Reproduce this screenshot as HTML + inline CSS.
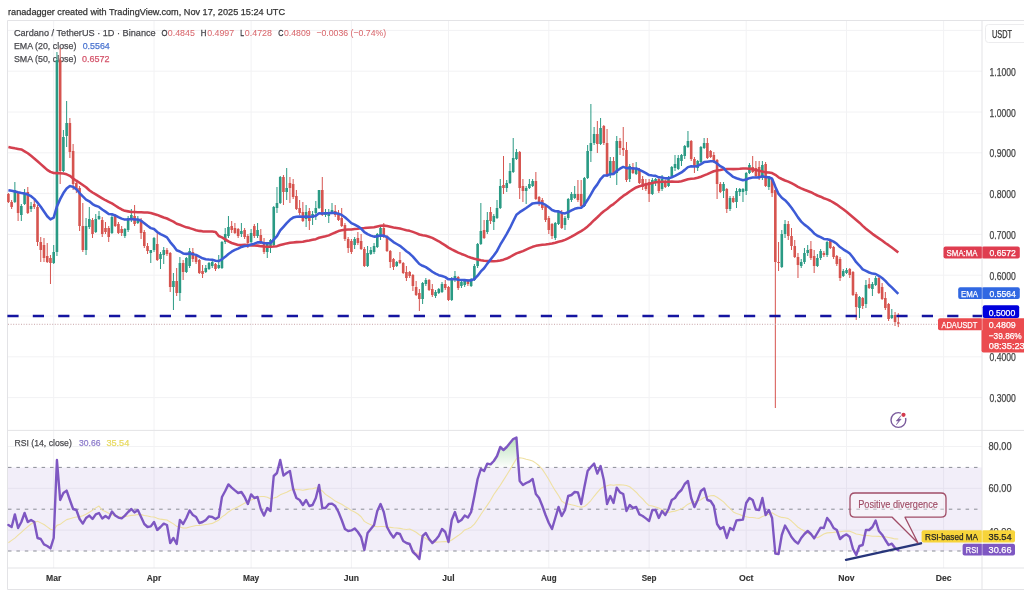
<!DOCTYPE html>
<html><head><meta charset="utf-8"><title>ADAUSDT chart</title>
<style>html,body{margin:0;padding:0;background:#fff;width:1024px;height:600px;overflow:hidden}body{position:relative;font-family:"Liberation Sans",sans-serif}</style>
</head><body>
<svg width="1024" height="600" viewBox="0 0 1024 600" style="position:absolute;left:0;top:0;filter:blur(0.45px)" font-family='"Liberation Sans", sans-serif'>
<rect x="0" y="0" width="1024" height="600" fill="#fff"/>
<line x1="53.7" y1="20.5" x2="53.7" y2="568" stroke="#f2f2f4" stroke-width="1"/>
<line x1="154.02" y1="20.5" x2="154.02" y2="568" stroke="#f2f2f4" stroke-width="1"/>
<line x1="251.1" y1="20.5" x2="251.1" y2="568" stroke="#f2f2f4" stroke-width="1"/>
<line x1="351.41" y1="20.5" x2="351.41" y2="568" stroke="#f2f2f4" stroke-width="1"/>
<line x1="448.49" y1="20.5" x2="448.49" y2="568" stroke="#f2f2f4" stroke-width="1"/>
<line x1="548.81" y1="20.5" x2="548.81" y2="568" stroke="#f2f2f4" stroke-width="1"/>
<line x1="649.12" y1="20.5" x2="649.12" y2="568" stroke="#f2f2f4" stroke-width="1"/>
<line x1="746.2" y1="20.5" x2="746.2" y2="568" stroke="#f2f2f4" stroke-width="1"/>
<line x1="846.52" y1="20.5" x2="846.52" y2="568" stroke="#f2f2f4" stroke-width="1"/>
<line x1="943.6" y1="20.5" x2="943.6" y2="568" stroke="#f2f2f4" stroke-width="1"/>
<line x1="7.5" y1="30.4" x2="982" y2="30.4" stroke="#f2f2f4" stroke-width="1"/>
<line x1="7.5" y1="71.2" x2="982" y2="71.2" stroke="#f2f2f4" stroke-width="1"/>
<line x1="7.5" y1="112" x2="982" y2="112" stroke="#f2f2f4" stroke-width="1"/>
<line x1="7.5" y1="152.8" x2="982" y2="152.8" stroke="#f2f2f4" stroke-width="1"/>
<line x1="7.5" y1="193.6" x2="982" y2="193.6" stroke="#f2f2f4" stroke-width="1"/>
<line x1="7.5" y1="234.4" x2="982" y2="234.4" stroke="#f2f2f4" stroke-width="1"/>
<line x1="7.5" y1="275.2" x2="982" y2="275.2" stroke="#f2f2f4" stroke-width="1"/>
<line x1="7.5" y1="316" x2="982" y2="316" stroke="#f2f2f4" stroke-width="1"/>
<line x1="7.5" y1="356.8" x2="982" y2="356.8" stroke="#f2f2f4" stroke-width="1"/>
<line x1="7.5" y1="397.6" x2="982" y2="397.6" stroke="#f2f2f4" stroke-width="1"/>
<line x1="7.5" y1="446.5" x2="982" y2="446.5" stroke="#f2f2f4" stroke-width="1"/>
<line x1="7.5" y1="488.3" x2="982" y2="488.3" stroke="#f2f2f4" stroke-width="1"/>
<line x1="7.5" y1="530.1" x2="982" y2="530.1" stroke="#f2f2f4" stroke-width="1"/>
<rect x="7.5" y="467.4" width="974.5" height="83.6" fill="#7e57c2" fill-opacity="0.1"/>
<line x1="7.5" y1="20.5" x2="1024" y2="20.5" stroke="#e3e3e6"/>
<line x1="7.5" y1="20.5" x2="7.5" y2="589.5" stroke="#e3e3e6"/>
<line x1="7.5" y1="589.5" x2="1024" y2="589.5" stroke="#e3e3e6"/>
<line x1="7.5" y1="430.4" x2="1024" y2="430.4" stroke="#e3e3e6"/>
<line x1="7.5" y1="568" x2="1024" y2="568" stroke="#e3e3e6"/>
<line x1="982" y1="20.5" x2="982" y2="589.5" stroke="#e3e3e6"/>
<line x1="8" y1="467.4" x2="982" y2="467.4" stroke="#8a8d96" stroke-width="1" stroke-dasharray="3.5 4.9"/>
<line x1="8" y1="509.2" x2="982" y2="509.2" stroke="#8a8d96" stroke-width="1" stroke-dasharray="3.5 4.9"/>
<line x1="8" y1="551" x2="982" y2="551" stroke="#8a8d96" stroke-width="1" stroke-dasharray="3.5 4.9"/>
<defs><linearGradient id="gOB" x1="0" y1="0" x2="0" y2="1"><stop offset="0" stop-color="#4caf50" stop-opacity="0.38"/><stop offset="1" stop-color="#4caf50" stop-opacity="0.02"/></linearGradient><linearGradient id="gOS" x1="0" y1="0" x2="0" y2="1"><stop offset="0" stop-color="#f23645" stop-opacity="0.05"/><stop offset="1" stop-color="#f23645" stop-opacity="0.5"/></linearGradient></defs>
<polygon points="56.63,467.4 56.94,460 57.53,467.4" fill="url(#gOB)"/>
<polygon points="278.38,467.4 280.22,460 281.76,467.4" fill="url(#gOB)"/>
<polygon points="485.66,467.4 487.32,463.6 490.56,464.4 493.8,461 497.03,456 500.27,447 503.5,450 506.74,447 509.98,443 513.21,439 516.45,437.6 518.67,467.4" fill="url(#gOB)"/>
<polygon points="590.55,467.4 590.88,467 594.11,463.6 595.34,467.4" fill="url(#gOB)"/>
<polygon points="599.99,467.4 600.58,466 600.91,467.4" fill="url(#gOB)"/>
<polygon points="412.49,551 412.9,552 416.13,555 419.37,559 420.49,551" fill="url(#gOS)"/>
<polygon points="775.09,551 775.33,553.6 778.56,554 779.07,551" fill="url(#gOS)"/>
<polygon points="854.07,551 856.23,555 857.67,551" fill="url(#gOS)"/>
<polyline points="8.4,542.72 11.63,540.41 14.87,538.09 18.1,535.21 21.34,532.29 24.58,529.38 27.81,526.66 31.05,523.98 34.28,522.36 37.52,521.26 40.76,522.88 43.99,524.5 47.23,526.86 50.46,529.23 53.7,530.16 56.94,525.37 60.17,524.34 63.41,521.84 66.64,519.6 69.88,518.67 73.12,517.74 76.35,517.03 79.59,516.81 82.82,515.79 86.06,514.29 89.3,512.23 92.53,510.3 95.77,507.87 99,506.09 102.24,510.26 105.48,511.41 108.71,513.22 111.95,514.72 115.18,515.84 118.42,516.45 121.66,517.05 124.89,516.81 128.13,515.98 131.36,515.34 134.6,515.11 137.84,514.46 141.07,514.65 144.31,515.44 147.54,516.04 150.78,516.79 154.02,517.04 157.25,518.36 160.49,519.17 163.72,519.6 166.96,520.07 170.2,522.03 173.43,523.89 176.67,526.39 179.9,526.93 183.14,527.93 186.38,528 189.61,527.03 192.85,526.17 196.08,525.5 199.32,525.57 202.56,525 205.79,524.5 209.03,523.99 212.26,523.41 215.5,521.7 218.74,520.2 221.97,516.84 225.21,514.77 228.44,511.94 231.68,509.77 234.92,508.34 238.15,506.77 241.39,504.99 244.62,503.13 247.86,501.84 251.1,500.01 254.33,498.7 257.57,497.27 260.8,496.56 264.04,496.46 267.28,497.24 270.51,498.67 273.75,498.07 276.98,497.03 280.22,494.86 283.46,493.61 286.69,492.26 289.93,490.4 293.16,489.33 296.4,489.59 299.64,489.73 302.87,490.3 306.11,489.66 309.34,488.97 312.58,488.76 315.82,487.83 319.05,488.47 322.29,490.97 325.52,494.4 328.76,496.43 332,498.61 335.23,501.11 338.47,502.76 341.7,504.33 344.94,506.4 348.18,508.26 351.41,510.43 354.65,512.03 357.88,513.96 361.12,516.74 364.36,521.39 367.59,523.17 370.83,524.67 374.06,526.17 377.3,526.7 380.54,526.56 383.77,526.56 387.01,527.06 390.24,527.34 393.48,527.81 396.72,528 399.95,528.4 403.19,529.04 406.42,529.47 409.66,529.04 412.9,530.4 416.13,532.26 419.37,534.69 422.6,536.47 425.84,538.54 429.08,540.47 432.31,541.61 435.55,542.11 438.78,542 442.02,541.71 445.26,541.57 448.49,541.64 451.73,540 454.96,537.71 458.2,535.57 461.44,533.07 464.67,529.97 467.91,528.66 471.14,527.16 474.38,524.09 477.62,519.51 480.85,514.44 484.09,509.8 487.32,505.13 490.56,500.3 493.8,494.51 497.03,489.94 500.27,485.3 503.5,480.16 506.74,474.94 509.98,469.76 513.21,464.14 516.45,458.83 519.68,457.76 522.92,458.19 526.16,459.19 529.39,459.94 532.63,461.04 535.86,463.16 539.1,465.8 542.34,469.37 545.57,474.23 548.81,479.44 552.04,485.3 555.28,490.66 558.52,495.51 561.75,501.11 564.99,503.19 568.22,503.97 571.46,504.83 574.7,505.57 577.93,506.53 581.17,507.24 584.4,506.46 587.64,503.96 590.88,500.53 594.11,496.29 597.35,492.33 600.58,488.61 603.82,486.69 607.06,485.83 610.29,484.83 613.53,485.33 616.76,484.8 620,484.83 623.24,484.94 626.47,485.44 629.71,486.73 632.94,489.37 636.18,492.23 639.42,495.86 642.65,498.89 645.89,502.63 649.12,505.56 652.36,505.99 655.6,506.99 658.83,508.06 662.07,509.73 665.3,511.34 668.54,512.41 671.78,511.63 675.01,511.13 678.25,510.06 681.48,508.84 684.72,506.67 687.96,504.17 691.19,502.71 694.43,501.71 697.66,501 700.9,499.64 704.14,497.53 707.37,496.74 710.61,495.74 713.84,495.53 717.08,497.24 720.32,499.46 723.55,501.89 726.79,505.31 730.02,508.46 733.26,511.96 736.5,513.56 739.73,514.49 742.97,515.89 746.2,516.74 749.44,517.43 752.68,517.43 755.91,518.04 759.15,518.33 762.38,516.47 765.62,515.47 768.86,514.26 772.09,512.83 775.33,514.66 778.56,516.37 781.8,517.41 785.04,517.81 788.27,518.63 791.51,521.06 794.74,524.13 797.98,527.24 801.22,529.27 804.45,530.99 807.69,533.34 810.92,534.7 814.16,536.73 817.4,537.8 820.63,535.94 823.87,534.09 827.1,532.87 830.34,532.61 833.58,532.4 836.81,531.9 840.05,531.76 843.28,531.21 846.52,530.96 849.76,531.17 852.99,532.46 856.23,533.96 859.46,534.5 862.7,535.36 865.94,535.53 869.17,535.67 872.41,536.31 875.64,536.21 878.88,536.42 882.12,536.76 885.35,536.83 888.59,537.47 891.82,538.14 895.06,538.92 898.3,539.01" fill="none" stroke="#efe0a2" stroke-width="1.1" stroke-linejoin="round"/>
<polyline points="8.4,525 11.63,527 14.87,514.4 18.1,528 21.34,522 24.58,513 27.81,522 31.05,520 34.28,522 37.52,538 40.76,539 43.99,544.4 47.23,546 50.46,548.4 53.7,538 56.94,460 60.17,500 63.41,493 66.64,490.6 69.88,500 73.12,509 76.35,510 79.59,519 82.82,523.6 86.06,518 89.3,515.6 92.53,519 95.77,514.4 99,513 102.24,518.5 105.48,516 108.71,518.4 111.95,511.6 115.18,515.6 118.42,517.6 121.66,518.4 124.89,515.6 128.13,512 131.36,509 134.6,512.4 137.84,510 141.07,517 144.31,524 147.54,527 150.78,526.4 154.02,522 157.25,530 160.49,527 163.72,523.6 166.96,525 170.2,543 173.43,538 176.67,544 179.9,520 183.14,524 186.38,518 189.61,510.4 192.85,515 196.08,517 199.32,523 202.56,522 205.79,520 209.03,516.4 212.26,517 215.5,519 218.74,517 221.97,497 225.21,491 228.44,484.4 231.68,487.6 234.92,490.4 238.15,493 241.39,492 244.62,497 247.86,504 251.1,494.4 254.33,498 257.57,497 260.8,509 264.04,515.6 267.28,508 270.51,511 273.75,476 276.98,473 280.22,460 283.46,475.6 286.69,473 289.93,471 293.16,489 296.4,498 299.64,500 302.87,505 306.11,500 309.34,506 312.58,505 315.82,498 319.05,485 322.29,508 325.52,508 328.76,504 332,503.6 335.23,506 338.47,512 341.7,520 344.94,529 348.18,531 351.41,530.4 354.65,528.4 357.88,532 361.12,537 364.36,550 367.59,533 370.83,529 374.06,525 377.3,511 380.54,504 383.77,512 387.01,527 390.24,533 393.48,537.6 396.72,533 399.95,534 403.19,541 406.42,543 409.66,544 412.9,552 416.13,555 419.37,559 422.6,536 425.84,533 429.08,539 432.31,543 435.55,540 438.78,536 442.02,529 445.26,532 448.49,542 451.73,520 454.96,512 458.2,522 461.44,520 464.67,515.6 467.91,517.6 471.14,512 474.38,496 477.62,479 480.85,469 484.09,471 487.32,463.6 490.56,464.4 493.8,461 497.03,456 500.27,447 503.5,450 506.74,447 509.98,443 513.21,439 516.45,437.6 519.68,481 522.92,485 526.16,483 529.39,481.6 532.63,479 535.86,494 539.1,498 542.34,506 545.57,515 548.81,523 552.04,529 555.28,518 558.52,507 561.75,516 564.99,510 568.22,496 571.46,495 574.7,492 577.93,492.4 581.17,504 584.4,487 587.64,471 590.88,467 594.11,463.6 597.35,473.6 600.58,466 603.82,480 607.06,504 610.29,496 613.53,503 616.76,487.6 620,492.4 623.24,494 626.47,511 629.71,505 632.94,508 636.18,507 639.42,514.4 642.65,516 645.89,518.4 649.12,521 652.36,510 655.6,510 658.83,518 662.07,511 665.3,515 668.54,509 671.78,500 675.01,498 678.25,493 681.48,490 684.72,484 687.96,481 691.19,498 694.43,507 697.66,500 700.9,491 704.14,488.4 707.37,500 710.61,501 713.84,506 717.08,524 720.32,529 723.55,527 726.79,538 730.02,528 733.26,530 736.5,520.4 739.73,520 742.97,519.6 746.2,503 749.44,498 752.68,500 755.91,509.6 759.15,510 762.38,498 765.62,515 768.86,510 772.09,518 775.33,553.6 778.56,554 781.8,535 785.04,525.6 788.27,531 791.51,537 794.74,541 797.98,543.6 801.22,538 804.45,534 807.69,531 810.92,534 814.16,538.4 817.4,533 820.63,527.6 823.87,528 827.1,518 830.34,522 833.58,528 836.81,530 840.05,539 843.28,536 846.52,534.4 849.76,537 852.99,549 856.23,555 859.46,546 862.7,545 865.94,530 869.17,530 872.41,527 875.64,520.5 878.88,531 882.12,534.7 885.35,540 888.59,545 891.82,543.7 895.06,548 898.3,550.3" fill="none" stroke="#7e57c2" stroke-width="2.4" stroke-linejoin="round" stroke-linecap="round"/>
<line x1="846" y1="559.8" x2="921" y2="543.3" stroke="#27357a" stroke-width="2.4" stroke-linecap="round"/>
<path d="M855,493 H941 Q946,493 946,498 V512.2 Q946,517.2 941,517.2 H905 L918,543 L892.2,517.2 H855 Q850,517.2 850,512.2 V498 Q850,493 855,493 Z" fill="rgba(255,248,250,0.35)" stroke="#a04d67" stroke-width="1.3" stroke-linejoin="round"/>
<text x="858.2" y="507.9" font-size="10.4" fill="#9e4a63" text-anchor="start" stroke="#9e4a63" stroke-width="0.12" textLength="79.7" lengthAdjust="spacingAndGlyphs" >Positive divergence</text>
<text x="8" y="14.6" font-size="9.9" fill="#333" text-anchor="start" stroke="#333" stroke-width="0.25" textLength="277" lengthAdjust="spacingAndGlyphs" >ranadagger created with TradingView.com, Nov 17, 2025 15:24 UTC</text>
<text x="13.9" y="35.6" font-size="9.4" fill="#4a4a4f" text-anchor="start" stroke="#4a4a4f" stroke-width="0.25" textLength="141.8" lengthAdjust="spacingAndGlyphs" >Cardano / TetherUS · 1D · Binance</text>
<text x="161.4" y="35.6" font-size="9.6" fill="#3a3a40" text-anchor="start" stroke="#3a3a40" stroke-width="0.3" textLength="6" lengthAdjust="spacingAndGlyphs" >O</text>
<text x="167.8" y="35.6" font-size="9.4" fill="#d9696e" text-anchor="start" stroke="#d9696e" stroke-width="0.05" textLength="27" lengthAdjust="spacingAndGlyphs" >0.4845</text>
<text x="200.8" y="35.6" font-size="9.6" fill="#3a3a40" text-anchor="start" stroke="#3a3a40" stroke-width="0.3" textLength="5.6" lengthAdjust="spacingAndGlyphs" >H</text>
<text x="207.2" y="35.6" font-size="9.4" fill="#d9696e" text-anchor="start" stroke="#d9696e" stroke-width="0.05" textLength="27" lengthAdjust="spacingAndGlyphs" >0.4997</text>
<text x="240.3" y="35.6" font-size="9.6" fill="#3a3a40" text-anchor="start" stroke="#3a3a40" stroke-width="0.3" textLength="3.8" lengthAdjust="spacingAndGlyphs" >L</text>
<text x="244.8" y="35.6" font-size="9.4" fill="#d9696e" text-anchor="start" stroke="#d9696e" stroke-width="0.05" textLength="27.2" lengthAdjust="spacingAndGlyphs" >0.4728</text>
<text x="278.3" y="35.6" font-size="9.6" fill="#3a3a40" text-anchor="start" stroke="#3a3a40" stroke-width="0.3" textLength="5.2" lengthAdjust="spacingAndGlyphs" >C</text>
<text x="284" y="35.6" font-size="9.4" fill="#d9696e" text-anchor="start" stroke="#d9696e" stroke-width="0.05" textLength="26.6" lengthAdjust="spacingAndGlyphs" >0.4809</text>
<text x="316.4" y="35.6" font-size="9.4" fill="#d9696e" text-anchor="start" stroke="#d9696e" stroke-width="0.05" textLength="69.8" lengthAdjust="spacingAndGlyphs" >−0.0036 (−0.74%)</text>
<text x="13.9" y="48.6" font-size="9.4" fill="#4a4a4f" text-anchor="start" stroke="#4a4a4f" stroke-width="0.25" textLength="62.5" lengthAdjust="spacingAndGlyphs" >EMA (20, close)</text>
<text x="82.7" y="48.6" font-size="9.4" fill="#4a74d0" text-anchor="start" stroke="#4a74d0" stroke-width="0.25" textLength="27.1" lengthAdjust="spacingAndGlyphs" >0.5564</text>
<text x="13.9" y="61.8" font-size="9.4" fill="#4a4a4f" text-anchor="start" stroke="#4a4a4f" stroke-width="0.25" textLength="62.5" lengthAdjust="spacingAndGlyphs" >SMA (50, close)</text>
<text x="82" y="61.8" font-size="9.4" fill="#d4556b" text-anchor="start" stroke="#d4556b" stroke-width="0.25" textLength="27.5" lengthAdjust="spacingAndGlyphs" >0.6572</text>
<line x1="8.4" y1="193" x2="8.4" y2="203" stroke="#d6544f" stroke-width="1"/>
<rect x="7.1" y="194" width="2.6" height="8" fill="#d6544f"/>
<line x1="11.63" y1="200" x2="11.63" y2="209" stroke="#d6544f" stroke-width="1"/>
<rect x="10.33" y="202" width="2.6" height="5" fill="#d6544f"/>
<line x1="14.87" y1="182" x2="14.87" y2="203" stroke="#2a9a84" stroke-width="1"/>
<rect x="13.57" y="190" width="2.6" height="12" fill="#2a9a84"/>
<line x1="18.1" y1="192" x2="18.1" y2="221" stroke="#d6544f" stroke-width="1"/>
<rect x="16.8" y="193" width="2.6" height="20" fill="#d6544f"/>
<line x1="21.34" y1="204" x2="21.34" y2="221" stroke="#2a9a84" stroke-width="1"/>
<rect x="20.04" y="206" width="2.6" height="9" fill="#2a9a84"/>
<line x1="24.58" y1="189" x2="24.58" y2="205" stroke="#2a9a84" stroke-width="1"/>
<rect x="23.28" y="194" width="2.6" height="10" fill="#2a9a84"/>
<line x1="27.81" y1="187" x2="27.81" y2="214" stroke="#d6544f" stroke-width="1"/>
<rect x="26.51" y="192" width="2.6" height="21" fill="#d6544f"/>
<line x1="31.05" y1="202" x2="31.05" y2="212" stroke="#2a9a84" stroke-width="1"/>
<rect x="29.75" y="206" width="2.6" height="3" fill="#2a9a84"/>
<line x1="34.28" y1="200" x2="34.28" y2="209" stroke="#d6544f" stroke-width="1"/>
<rect x="32.98" y="204" width="2.6" height="3" fill="#d6544f"/>
<line x1="37.52" y1="205" x2="37.52" y2="246" stroke="#d6544f" stroke-width="1"/>
<rect x="36.22" y="207" width="2.6" height="35" fill="#d6544f"/>
<line x1="40.76" y1="237" x2="40.76" y2="262" stroke="#d6544f" stroke-width="1"/>
<rect x="39.46" y="242" width="2.6" height="8" fill="#d6544f"/>
<line x1="43.99" y1="238" x2="43.99" y2="262" stroke="#d6544f" stroke-width="1"/>
<rect x="42.69" y="245" width="2.6" height="13" fill="#d6544f"/>
<line x1="47.23" y1="243" x2="47.23" y2="263" stroke="#d6544f" stroke-width="1"/>
<rect x="45.93" y="256" width="2.6" height="6" fill="#d6544f"/>
<line x1="50.46" y1="255" x2="50.46" y2="284" stroke="#d6544f" stroke-width="1"/>
<rect x="49.16" y="258" width="2.6" height="5" fill="#d6544f"/>
<line x1="53.7" y1="245" x2="53.7" y2="264" stroke="#2a9a84" stroke-width="1"/>
<rect x="52.4" y="252" width="2.6" height="11" fill="#2a9a84"/>
<line x1="56.94" y1="52" x2="56.94" y2="256" stroke="#2a9a84" stroke-width="1"/>
<rect x="55.64" y="60" width="2.6" height="192" fill="#2a9a84"/>
<line x1="60.17" y1="48" x2="60.17" y2="184" stroke="#d6544f" stroke-width="1"/>
<rect x="58.87" y="60" width="2.6" height="111" fill="#d6544f"/>
<line x1="63.41" y1="130" x2="63.41" y2="172" stroke="#2a9a84" stroke-width="1"/>
<rect x="62.11" y="137" width="2.6" height="34" fill="#2a9a84"/>
<line x1="66.64" y1="101" x2="66.64" y2="147" stroke="#2a9a84" stroke-width="1"/>
<rect x="65.34" y="123" width="2.6" height="13" fill="#2a9a84"/>
<line x1="69.88" y1="118" x2="69.88" y2="158" stroke="#d6544f" stroke-width="1"/>
<rect x="68.58" y="123" width="2.6" height="29" fill="#d6544f"/>
<line x1="73.12" y1="144" x2="73.12" y2="190" stroke="#d6544f" stroke-width="1"/>
<rect x="71.82" y="151" width="2.6" height="33" fill="#d6544f"/>
<line x1="76.35" y1="180" x2="76.35" y2="193" stroke="#d6544f" stroke-width="1"/>
<rect x="75.05" y="183" width="2.6" height="7" fill="#d6544f"/>
<line x1="79.59" y1="186" x2="79.59" y2="231" stroke="#d6544f" stroke-width="1"/>
<rect x="78.29" y="188" width="2.6" height="38" fill="#d6544f"/>
<line x1="82.82" y1="203" x2="82.82" y2="252" stroke="#d6544f" stroke-width="1"/>
<rect x="81.52" y="226" width="2.6" height="24" fill="#d6544f"/>
<line x1="86.06" y1="218" x2="86.06" y2="255" stroke="#2a9a84" stroke-width="1"/>
<rect x="84.76" y="226" width="2.6" height="24" fill="#2a9a84"/>
<line x1="89.3" y1="207" x2="89.3" y2="229" stroke="#2a9a84" stroke-width="1"/>
<rect x="88" y="219" width="2.6" height="8" fill="#2a9a84"/>
<line x1="92.53" y1="218" x2="92.53" y2="238" stroke="#d6544f" stroke-width="1"/>
<rect x="91.23" y="220" width="2.6" height="14" fill="#d6544f"/>
<line x1="95.77" y1="214" x2="95.77" y2="233" stroke="#2a9a84" stroke-width="1"/>
<rect x="94.47" y="219" width="2.6" height="13" fill="#2a9a84"/>
<line x1="99" y1="211" x2="99" y2="220" stroke="#2a9a84" stroke-width="1"/>
<rect x="97.7" y="216" width="2.6" height="3" fill="#2a9a84"/>
<line x1="102.24" y1="217" x2="102.24" y2="237" stroke="#d6544f" stroke-width="1"/>
<rect x="100.94" y="220" width="2.6" height="14" fill="#d6544f"/>
<line x1="105.48" y1="222" x2="105.48" y2="234" stroke="#d6544f" stroke-width="1"/>
<rect x="104.18" y="228" width="2.6" height="4" fill="#d6544f"/>
<line x1="108.71" y1="226" x2="108.71" y2="242" stroke="#d6544f" stroke-width="1"/>
<rect x="107.41" y="228" width="2.6" height="9" fill="#d6544f"/>
<line x1="111.95" y1="215" x2="111.95" y2="234" stroke="#2a9a84" stroke-width="1"/>
<rect x="110.65" y="217" width="2.6" height="16" fill="#2a9a84"/>
<line x1="115.18" y1="214" x2="115.18" y2="227" stroke="#d6544f" stroke-width="1"/>
<rect x="113.88" y="216" width="2.6" height="10" fill="#d6544f"/>
<line x1="118.42" y1="222" x2="118.42" y2="234" stroke="#d6544f" stroke-width="1"/>
<rect x="117.12" y="224" width="2.6" height="9" fill="#d6544f"/>
<line x1="121.66" y1="226" x2="121.66" y2="236" stroke="#d6544f" stroke-width="1"/>
<rect x="120.36" y="229" width="2.6" height="4" fill="#d6544f"/>
<line x1="124.89" y1="228" x2="124.89" y2="238" stroke="#2a9a84" stroke-width="1"/>
<rect x="123.59" y="229" width="2.6" height="7" fill="#2a9a84"/>
<line x1="128.13" y1="216" x2="128.13" y2="232" stroke="#2a9a84" stroke-width="1"/>
<rect x="126.83" y="218" width="2.6" height="12" fill="#2a9a84"/>
<line x1="131.36" y1="209" x2="131.36" y2="222" stroke="#2a9a84" stroke-width="1"/>
<rect x="130.06" y="215" width="2.6" height="5" fill="#2a9a84"/>
<line x1="134.6" y1="205" x2="134.6" y2="226" stroke="#d6544f" stroke-width="1"/>
<rect x="133.3" y="216" width="2.6" height="8" fill="#d6544f"/>
<line x1="137.84" y1="216" x2="137.84" y2="224" stroke="#2a9a84" stroke-width="1"/>
<rect x="136.54" y="219" width="2.6" height="4" fill="#2a9a84"/>
<line x1="141.07" y1="218" x2="141.07" y2="239" stroke="#d6544f" stroke-width="1"/>
<rect x="139.77" y="220" width="2.6" height="13" fill="#d6544f"/>
<line x1="144.31" y1="230" x2="144.31" y2="248" stroke="#d6544f" stroke-width="1"/>
<rect x="143.01" y="232" width="2.6" height="14" fill="#d6544f"/>
<line x1="147.54" y1="243" x2="147.54" y2="254" stroke="#d6544f" stroke-width="1"/>
<rect x="146.24" y="246" width="2.6" height="5" fill="#d6544f"/>
<line x1="150.78" y1="250" x2="150.78" y2="263" stroke="#2a9a84" stroke-width="1"/>
<rect x="149.48" y="250" width="2.6" height="3" fill="#2a9a84"/>
<line x1="154.02" y1="237" x2="154.02" y2="252" stroke="#2a9a84" stroke-width="1"/>
<rect x="152.72" y="238" width="2.6" height="12" fill="#2a9a84"/>
<line x1="157.25" y1="233" x2="157.25" y2="261" stroke="#d6544f" stroke-width="1"/>
<rect x="155.95" y="244" width="2.6" height="16" fill="#d6544f"/>
<line x1="160.49" y1="252" x2="160.49" y2="269" stroke="#2a9a84" stroke-width="1"/>
<rect x="159.19" y="254" width="2.6" height="5" fill="#2a9a84"/>
<line x1="163.72" y1="247" x2="163.72" y2="264" stroke="#2a9a84" stroke-width="1"/>
<rect x="162.42" y="250" width="2.6" height="5" fill="#2a9a84"/>
<line x1="166.96" y1="248" x2="166.96" y2="256" stroke="#d6544f" stroke-width="1"/>
<rect x="165.66" y="250" width="2.6" height="4" fill="#d6544f"/>
<line x1="170.2" y1="252" x2="170.2" y2="292" stroke="#d6544f" stroke-width="1"/>
<rect x="168.9" y="253" width="2.6" height="34" fill="#d6544f"/>
<line x1="173.43" y1="273" x2="173.43" y2="310" stroke="#2a9a84" stroke-width="1"/>
<rect x="172.13" y="281" width="2.6" height="6" fill="#2a9a84"/>
<line x1="176.67" y1="268" x2="176.67" y2="296" stroke="#d6544f" stroke-width="1"/>
<rect x="175.37" y="281" width="2.6" height="12" fill="#d6544f"/>
<line x1="179.9" y1="257" x2="179.9" y2="301" stroke="#2a9a84" stroke-width="1"/>
<rect x="178.6" y="263" width="2.6" height="30" fill="#2a9a84"/>
<line x1="183.14" y1="260" x2="183.14" y2="280" stroke="#d6544f" stroke-width="1"/>
<rect x="181.84" y="263" width="2.6" height="9" fill="#d6544f"/>
<line x1="186.38" y1="257" x2="186.38" y2="273" stroke="#2a9a84" stroke-width="1"/>
<rect x="185.08" y="258" width="2.6" height="14" fill="#2a9a84"/>
<line x1="189.61" y1="248" x2="189.61" y2="268" stroke="#2a9a84" stroke-width="1"/>
<rect x="188.31" y="251" width="2.6" height="15" fill="#2a9a84"/>
<line x1="192.85" y1="248" x2="192.85" y2="262" stroke="#d6544f" stroke-width="1"/>
<rect x="191.55" y="252" width="2.6" height="7" fill="#d6544f"/>
<line x1="196.08" y1="254" x2="196.08" y2="264" stroke="#d6544f" stroke-width="1"/>
<rect x="194.78" y="256" width="2.6" height="6" fill="#d6544f"/>
<line x1="199.32" y1="259" x2="199.32" y2="274" stroke="#d6544f" stroke-width="1"/>
<rect x="198.02" y="260" width="2.6" height="13" fill="#d6544f"/>
<line x1="202.56" y1="265" x2="202.56" y2="278" stroke="#d6544f" stroke-width="1"/>
<rect x="201.26" y="271" width="2.6" height="3" fill="#d6544f"/>
<line x1="205.79" y1="265" x2="205.79" y2="273" stroke="#2a9a84" stroke-width="1"/>
<rect x="204.49" y="268" width="2.6" height="4" fill="#2a9a84"/>
<line x1="209.03" y1="262" x2="209.03" y2="270" stroke="#2a9a84" stroke-width="1"/>
<rect x="207.73" y="263" width="2.6" height="6" fill="#2a9a84"/>
<line x1="212.26" y1="261" x2="212.26" y2="268" stroke="#2a9a84" stroke-width="1"/>
<rect x="210.96" y="262" width="2.6" height="4" fill="#2a9a84"/>
<line x1="215.5" y1="263" x2="215.5" y2="271" stroke="#d6544f" stroke-width="1"/>
<rect x="214.2" y="264" width="2.6" height="5" fill="#d6544f"/>
<line x1="218.74" y1="255" x2="218.74" y2="269" stroke="#2a9a84" stroke-width="1"/>
<rect x="217.44" y="265" width="2.6" height="3" fill="#2a9a84"/>
<line x1="221.97" y1="241" x2="221.97" y2="269" stroke="#2a9a84" stroke-width="1"/>
<rect x="220.67" y="242" width="2.6" height="26" fill="#2a9a84"/>
<line x1="225.21" y1="228" x2="225.21" y2="244" stroke="#2a9a84" stroke-width="1"/>
<rect x="223.91" y="234" width="2.6" height="8" fill="#2a9a84"/>
<line x1="228.44" y1="216" x2="228.44" y2="238" stroke="#2a9a84" stroke-width="1"/>
<rect x="227.14" y="227" width="2.6" height="9" fill="#2a9a84"/>
<line x1="231.68" y1="221" x2="231.68" y2="233" stroke="#d6544f" stroke-width="1"/>
<rect x="230.38" y="226" width="2.6" height="4" fill="#d6544f"/>
<line x1="234.92" y1="223" x2="234.92" y2="234" stroke="#d6544f" stroke-width="1"/>
<rect x="233.62" y="228" width="2.6" height="5" fill="#d6544f"/>
<line x1="238.15" y1="228" x2="238.15" y2="238" stroke="#d6544f" stroke-width="1"/>
<rect x="236.85" y="229" width="2.6" height="7" fill="#d6544f"/>
<line x1="241.39" y1="223" x2="241.39" y2="237" stroke="#2a9a84" stroke-width="1"/>
<rect x="240.09" y="231" width="2.6" height="3" fill="#2a9a84"/>
<line x1="244.62" y1="228" x2="244.62" y2="239" stroke="#d6544f" stroke-width="1"/>
<rect x="243.32" y="230" width="2.6" height="7" fill="#d6544f"/>
<line x1="247.86" y1="234" x2="247.86" y2="248" stroke="#d6544f" stroke-width="1"/>
<rect x="246.56" y="236" width="2.6" height="7" fill="#d6544f"/>
<line x1="251.1" y1="229" x2="251.1" y2="243" stroke="#2a9a84" stroke-width="1"/>
<rect x="249.8" y="233" width="2.6" height="9" fill="#2a9a84"/>
<line x1="254.33" y1="224" x2="254.33" y2="238" stroke="#d6544f" stroke-width="1"/>
<rect x="253.03" y="226" width="2.6" height="10" fill="#d6544f"/>
<line x1="257.57" y1="223" x2="257.57" y2="238" stroke="#2a9a84" stroke-width="1"/>
<rect x="256.27" y="230" width="2.6" height="6" fill="#2a9a84"/>
<line x1="260.8" y1="229" x2="260.8" y2="244" stroke="#d6544f" stroke-width="1"/>
<rect x="259.5" y="235" width="2.6" height="7" fill="#d6544f"/>
<line x1="264.04" y1="238" x2="264.04" y2="254" stroke="#d6544f" stroke-width="1"/>
<rect x="262.74" y="244" width="2.6" height="8" fill="#d6544f"/>
<line x1="267.28" y1="242" x2="267.28" y2="258" stroke="#2a9a84" stroke-width="1"/>
<rect x="265.98" y="244" width="2.6" height="8" fill="#2a9a84"/>
<line x1="270.51" y1="239" x2="270.51" y2="253" stroke="#2a9a84" stroke-width="1"/>
<rect x="269.21" y="240" width="2.6" height="8" fill="#2a9a84"/>
<line x1="273.75" y1="206" x2="273.75" y2="246" stroke="#2a9a84" stroke-width="1"/>
<rect x="272.45" y="207" width="2.6" height="38" fill="#2a9a84"/>
<line x1="276.98" y1="187" x2="276.98" y2="213" stroke="#2a9a84" stroke-width="1"/>
<rect x="275.68" y="203" width="2.6" height="5" fill="#2a9a84"/>
<line x1="280.22" y1="176" x2="280.22" y2="204" stroke="#2a9a84" stroke-width="1"/>
<rect x="278.92" y="177" width="2.6" height="26" fill="#2a9a84"/>
<line x1="283.46" y1="175" x2="283.46" y2="205" stroke="#d6544f" stroke-width="1"/>
<rect x="282.16" y="177" width="2.6" height="15" fill="#d6544f"/>
<line x1="286.69" y1="168" x2="286.69" y2="200" stroke="#2a9a84" stroke-width="1"/>
<rect x="285.39" y="188" width="2.6" height="4" fill="#2a9a84"/>
<line x1="289.93" y1="177" x2="289.93" y2="203" stroke="#d6544f" stroke-width="1"/>
<rect x="288.63" y="183" width="2.6" height="5" fill="#d6544f"/>
<line x1="293.16" y1="179" x2="293.16" y2="199" stroke="#d6544f" stroke-width="1"/>
<rect x="291.86" y="184" width="2.6" height="13" fill="#d6544f"/>
<line x1="296.4" y1="190" x2="296.4" y2="210" stroke="#d6544f" stroke-width="1"/>
<rect x="295.1" y="196" width="2.6" height="13" fill="#d6544f"/>
<line x1="299.64" y1="200" x2="299.64" y2="215" stroke="#d6544f" stroke-width="1"/>
<rect x="298.34" y="208" width="2.6" height="5" fill="#d6544f"/>
<line x1="302.87" y1="202" x2="302.87" y2="222" stroke="#d6544f" stroke-width="1"/>
<rect x="301.57" y="212" width="2.6" height="9" fill="#d6544f"/>
<line x1="306.11" y1="205" x2="306.11" y2="227" stroke="#2a9a84" stroke-width="1"/>
<rect x="304.81" y="212" width="2.6" height="7" fill="#2a9a84"/>
<line x1="309.34" y1="208" x2="309.34" y2="230" stroke="#d6544f" stroke-width="1"/>
<rect x="308.04" y="211" width="2.6" height="10" fill="#d6544f"/>
<line x1="312.58" y1="211" x2="312.58" y2="225" stroke="#2a9a84" stroke-width="1"/>
<rect x="311.28" y="214" width="2.6" height="4" fill="#2a9a84"/>
<line x1="315.82" y1="201" x2="315.82" y2="220" stroke="#2a9a84" stroke-width="1"/>
<rect x="314.52" y="208" width="2.6" height="5" fill="#2a9a84"/>
<line x1="319.05" y1="190" x2="319.05" y2="209" stroke="#2a9a84" stroke-width="1"/>
<rect x="317.75" y="190" width="2.6" height="18" fill="#2a9a84"/>
<line x1="322.29" y1="177" x2="322.29" y2="216" stroke="#d6544f" stroke-width="1"/>
<rect x="320.99" y="190" width="2.6" height="25" fill="#d6544f"/>
<line x1="325.52" y1="209" x2="325.52" y2="217" stroke="#2a9a84" stroke-width="1"/>
<rect x="324.22" y="212" width="2.6" height="3" fill="#2a9a84"/>
<line x1="328.76" y1="209" x2="328.76" y2="223" stroke="#2a9a84" stroke-width="1"/>
<rect x="327.46" y="212" width="2.6" height="4" fill="#2a9a84"/>
<line x1="332" y1="203" x2="332" y2="214" stroke="#2a9a84" stroke-width="1"/>
<rect x="330.7" y="210" width="2.6" height="3" fill="#2a9a84"/>
<line x1="335.23" y1="205" x2="335.23" y2="217" stroke="#d6544f" stroke-width="1"/>
<rect x="333.93" y="211" width="2.6" height="4" fill="#d6544f"/>
<line x1="338.47" y1="210" x2="338.47" y2="221" stroke="#d6544f" stroke-width="1"/>
<rect x="337.17" y="213" width="2.6" height="7" fill="#d6544f"/>
<line x1="341.7" y1="208" x2="341.7" y2="227" stroke="#d6544f" stroke-width="1"/>
<rect x="340.4" y="218" width="2.6" height="8" fill="#d6544f"/>
<line x1="344.94" y1="223" x2="344.94" y2="241" stroke="#d6544f" stroke-width="1"/>
<rect x="343.64" y="225" width="2.6" height="14" fill="#d6544f"/>
<line x1="348.18" y1="237" x2="348.18" y2="253" stroke="#d6544f" stroke-width="1"/>
<rect x="346.88" y="239" width="2.6" height="9" fill="#d6544f"/>
<line x1="351.41" y1="239" x2="351.41" y2="254" stroke="#d6544f" stroke-width="1"/>
<rect x="350.11" y="241" width="2.6" height="11" fill="#d6544f"/>
<line x1="354.65" y1="237" x2="354.65" y2="249" stroke="#2a9a84" stroke-width="1"/>
<rect x="353.35" y="239" width="2.6" height="6" fill="#2a9a84"/>
<line x1="357.88" y1="232" x2="357.88" y2="245" stroke="#d6544f" stroke-width="1"/>
<rect x="356.58" y="238" width="2.6" height="5" fill="#d6544f"/>
<line x1="361.12" y1="234" x2="361.12" y2="250" stroke="#d6544f" stroke-width="1"/>
<rect x="359.82" y="241" width="2.6" height="8" fill="#d6544f"/>
<line x1="364.36" y1="247" x2="364.36" y2="267" stroke="#d6544f" stroke-width="1"/>
<rect x="363.06" y="249" width="2.6" height="17" fill="#d6544f"/>
<line x1="367.59" y1="246" x2="367.59" y2="267" stroke="#2a9a84" stroke-width="1"/>
<rect x="366.29" y="253" width="2.6" height="13" fill="#2a9a84"/>
<line x1="370.83" y1="247" x2="370.83" y2="255" stroke="#2a9a84" stroke-width="1"/>
<rect x="369.53" y="250" width="2.6" height="4" fill="#2a9a84"/>
<line x1="374.06" y1="243" x2="374.06" y2="254" stroke="#2a9a84" stroke-width="1"/>
<rect x="372.76" y="246" width="2.6" height="6" fill="#2a9a84"/>
<line x1="377.3" y1="233" x2="377.3" y2="248" stroke="#2a9a84" stroke-width="1"/>
<rect x="376" y="234" width="2.6" height="13" fill="#2a9a84"/>
<line x1="380.54" y1="226" x2="380.54" y2="240" stroke="#2a9a84" stroke-width="1"/>
<rect x="379.24" y="228" width="2.6" height="7" fill="#2a9a84"/>
<line x1="383.77" y1="223" x2="383.77" y2="238" stroke="#d6544f" stroke-width="1"/>
<rect x="382.47" y="228" width="2.6" height="8" fill="#d6544f"/>
<line x1="387.01" y1="235" x2="387.01" y2="252" stroke="#d6544f" stroke-width="1"/>
<rect x="385.71" y="236" width="2.6" height="15" fill="#d6544f"/>
<line x1="390.24" y1="250" x2="390.24" y2="268" stroke="#d6544f" stroke-width="1"/>
<rect x="388.94" y="251" width="2.6" height="11" fill="#d6544f"/>
<line x1="393.48" y1="258" x2="393.48" y2="270" stroke="#d6544f" stroke-width="1"/>
<rect x="392.18" y="259" width="2.6" height="8" fill="#d6544f"/>
<line x1="396.72" y1="261" x2="396.72" y2="267" stroke="#2a9a84" stroke-width="1"/>
<rect x="395.42" y="262" width="2.6" height="4" fill="#2a9a84"/>
<line x1="399.95" y1="252" x2="399.95" y2="264" stroke="#d6544f" stroke-width="1"/>
<rect x="398.65" y="260" width="2.6" height="3" fill="#d6544f"/>
<line x1="403.19" y1="262" x2="403.19" y2="274" stroke="#d6544f" stroke-width="1"/>
<rect x="401.89" y="263" width="2.6" height="10" fill="#d6544f"/>
<line x1="406.42" y1="266" x2="406.42" y2="281" stroke="#d6544f" stroke-width="1"/>
<rect x="405.12" y="272" width="2.6" height="6" fill="#d6544f"/>
<line x1="409.66" y1="271" x2="409.66" y2="278" stroke="#d6544f" stroke-width="1"/>
<rect x="408.36" y="272" width="2.6" height="4" fill="#d6544f"/>
<line x1="412.9" y1="274" x2="412.9" y2="291" stroke="#d6544f" stroke-width="1"/>
<rect x="411.6" y="275" width="2.6" height="11" fill="#d6544f"/>
<line x1="416.13" y1="281" x2="416.13" y2="296" stroke="#d6544f" stroke-width="1"/>
<rect x="414.83" y="287" width="2.6" height="8" fill="#d6544f"/>
<line x1="419.37" y1="289" x2="419.37" y2="311" stroke="#d6544f" stroke-width="1"/>
<rect x="418.07" y="293" width="2.6" height="6" fill="#d6544f"/>
<line x1="422.6" y1="282" x2="422.6" y2="304" stroke="#2a9a84" stroke-width="1"/>
<rect x="421.3" y="283" width="2.6" height="16" fill="#2a9a84"/>
<line x1="425.84" y1="278" x2="425.84" y2="286" stroke="#2a9a84" stroke-width="1"/>
<rect x="424.54" y="280" width="2.6" height="4" fill="#2a9a84"/>
<line x1="429.08" y1="279" x2="429.08" y2="291" stroke="#d6544f" stroke-width="1"/>
<rect x="427.78" y="280" width="2.6" height="10" fill="#d6544f"/>
<line x1="432.31" y1="284" x2="432.31" y2="297" stroke="#d6544f" stroke-width="1"/>
<rect x="431.01" y="289" width="2.6" height="6" fill="#d6544f"/>
<line x1="435.55" y1="290" x2="435.55" y2="298" stroke="#2a9a84" stroke-width="1"/>
<rect x="434.25" y="292" width="2.6" height="4" fill="#2a9a84"/>
<line x1="438.78" y1="288" x2="438.78" y2="294" stroke="#2a9a84" stroke-width="1"/>
<rect x="437.48" y="289" width="2.6" height="4" fill="#2a9a84"/>
<line x1="442.02" y1="282" x2="442.02" y2="293" stroke="#2a9a84" stroke-width="1"/>
<rect x="440.72" y="284" width="2.6" height="8" fill="#2a9a84"/>
<line x1="445.26" y1="280" x2="445.26" y2="290" stroke="#d6544f" stroke-width="1"/>
<rect x="443.96" y="284" width="2.6" height="4" fill="#d6544f"/>
<line x1="448.49" y1="286" x2="448.49" y2="301" stroke="#d6544f" stroke-width="1"/>
<rect x="447.19" y="287" width="2.6" height="13" fill="#d6544f"/>
<line x1="451.73" y1="277" x2="451.73" y2="301" stroke="#2a9a84" stroke-width="1"/>
<rect x="450.43" y="279" width="2.6" height="21" fill="#2a9a84"/>
<line x1="454.96" y1="271" x2="454.96" y2="282" stroke="#2a9a84" stroke-width="1"/>
<rect x="453.66" y="276" width="2.6" height="4" fill="#2a9a84"/>
<line x1="458.2" y1="276" x2="458.2" y2="290" stroke="#d6544f" stroke-width="1"/>
<rect x="456.9" y="277" width="2.6" height="11" fill="#d6544f"/>
<line x1="461.44" y1="279" x2="461.44" y2="288" stroke="#2a9a84" stroke-width="1"/>
<rect x="460.14" y="282" width="2.6" height="4" fill="#2a9a84"/>
<line x1="464.67" y1="279" x2="464.67" y2="287" stroke="#2a9a84" stroke-width="1"/>
<rect x="463.37" y="281" width="2.6" height="4" fill="#2a9a84"/>
<line x1="467.91" y1="279" x2="467.91" y2="286" stroke="#d6544f" stroke-width="1"/>
<rect x="466.61" y="280" width="2.6" height="4" fill="#d6544f"/>
<line x1="471.14" y1="278" x2="471.14" y2="287" stroke="#2a9a84" stroke-width="1"/>
<rect x="469.84" y="279" width="2.6" height="7" fill="#2a9a84"/>
<line x1="474.38" y1="264" x2="474.38" y2="281" stroke="#2a9a84" stroke-width="1"/>
<rect x="473.08" y="266" width="2.6" height="14" fill="#2a9a84"/>
<line x1="477.62" y1="243" x2="477.62" y2="268" stroke="#2a9a84" stroke-width="1"/>
<rect x="476.32" y="244" width="2.6" height="22" fill="#2a9a84"/>
<line x1="480.85" y1="203" x2="480.85" y2="245" stroke="#2a9a84" stroke-width="1"/>
<rect x="479.55" y="231" width="2.6" height="13" fill="#2a9a84"/>
<line x1="484.09" y1="220" x2="484.09" y2="239" stroke="#d6544f" stroke-width="1"/>
<rect x="482.79" y="230" width="2.6" height="8" fill="#d6544f"/>
<line x1="487.32" y1="212" x2="487.32" y2="234" stroke="#2a9a84" stroke-width="1"/>
<rect x="486.02" y="220" width="2.6" height="12" fill="#2a9a84"/>
<line x1="490.56" y1="207" x2="490.56" y2="224" stroke="#d6544f" stroke-width="1"/>
<rect x="489.26" y="212" width="2.6" height="9" fill="#d6544f"/>
<line x1="493.8" y1="214" x2="493.8" y2="230" stroke="#2a9a84" stroke-width="1"/>
<rect x="492.5" y="216" width="2.6" height="6" fill="#2a9a84"/>
<line x1="497.03" y1="200" x2="497.03" y2="219" stroke="#2a9a84" stroke-width="1"/>
<rect x="495.73" y="208" width="2.6" height="10" fill="#2a9a84"/>
<line x1="500.27" y1="179" x2="500.27" y2="209" stroke="#2a9a84" stroke-width="1"/>
<rect x="498.97" y="186" width="2.6" height="22" fill="#2a9a84"/>
<line x1="503.5" y1="156" x2="503.5" y2="194" stroke="#d6544f" stroke-width="1"/>
<rect x="502.2" y="185" width="2.6" height="3" fill="#d6544f"/>
<line x1="506.74" y1="180" x2="506.74" y2="192" stroke="#2a9a84" stroke-width="1"/>
<rect x="505.44" y="183" width="2.6" height="5" fill="#2a9a84"/>
<line x1="509.98" y1="163" x2="509.98" y2="184" stroke="#2a9a84" stroke-width="1"/>
<rect x="508.68" y="171" width="2.6" height="12" fill="#2a9a84"/>
<line x1="513.21" y1="138" x2="513.21" y2="173" stroke="#2a9a84" stroke-width="1"/>
<rect x="511.91" y="158" width="2.6" height="14" fill="#2a9a84"/>
<line x1="516.45" y1="149" x2="516.45" y2="160" stroke="#2a9a84" stroke-width="1"/>
<rect x="515.15" y="152" width="2.6" height="7" fill="#2a9a84"/>
<line x1="519.68" y1="151" x2="519.68" y2="199" stroke="#d6544f" stroke-width="1"/>
<rect x="518.38" y="152" width="2.6" height="36" fill="#d6544f"/>
<line x1="522.92" y1="179" x2="522.92" y2="202" stroke="#d6544f" stroke-width="1"/>
<rect x="521.62" y="186" width="2.6" height="5" fill="#d6544f"/>
<line x1="526.16" y1="186" x2="526.16" y2="204" stroke="#2a9a84" stroke-width="1"/>
<rect x="524.86" y="188" width="2.6" height="3" fill="#2a9a84"/>
<line x1="529.39" y1="179" x2="529.39" y2="189" stroke="#2a9a84" stroke-width="1"/>
<rect x="528.09" y="184" width="2.6" height="4" fill="#2a9a84"/>
<line x1="532.63" y1="179" x2="532.63" y2="187" stroke="#2a9a84" stroke-width="1"/>
<rect x="531.33" y="181" width="2.6" height="5" fill="#2a9a84"/>
<line x1="535.86" y1="172" x2="535.86" y2="200" stroke="#d6544f" stroke-width="1"/>
<rect x="534.56" y="181" width="2.6" height="18" fill="#d6544f"/>
<line x1="539.1" y1="196" x2="539.1" y2="206" stroke="#d6544f" stroke-width="1"/>
<rect x="537.8" y="197" width="2.6" height="5" fill="#d6544f"/>
<line x1="542.34" y1="198" x2="542.34" y2="210" stroke="#d6544f" stroke-width="1"/>
<rect x="541.04" y="200" width="2.6" height="8" fill="#d6544f"/>
<line x1="545.57" y1="204" x2="545.57" y2="222" stroke="#d6544f" stroke-width="1"/>
<rect x="544.27" y="206" width="2.6" height="14" fill="#d6544f"/>
<line x1="548.81" y1="216" x2="548.81" y2="234" stroke="#d6544f" stroke-width="1"/>
<rect x="547.51" y="218" width="2.6" height="12" fill="#d6544f"/>
<line x1="552.04" y1="223" x2="552.04" y2="239" stroke="#d6544f" stroke-width="1"/>
<rect x="550.74" y="224" width="2.6" height="12" fill="#d6544f"/>
<line x1="555.28" y1="222" x2="555.28" y2="240" stroke="#2a9a84" stroke-width="1"/>
<rect x="553.98" y="223" width="2.6" height="15" fill="#2a9a84"/>
<line x1="558.52" y1="211" x2="558.52" y2="225" stroke="#2a9a84" stroke-width="1"/>
<rect x="557.22" y="212" width="2.6" height="12" fill="#2a9a84"/>
<line x1="561.75" y1="210" x2="561.75" y2="229" stroke="#d6544f" stroke-width="1"/>
<rect x="560.45" y="212" width="2.6" height="16" fill="#d6544f"/>
<line x1="564.99" y1="216" x2="564.99" y2="230" stroke="#2a9a84" stroke-width="1"/>
<rect x="563.69" y="218" width="2.6" height="7" fill="#2a9a84"/>
<line x1="568.22" y1="198" x2="568.22" y2="220" stroke="#2a9a84" stroke-width="1"/>
<rect x="566.92" y="199" width="2.6" height="19" fill="#2a9a84"/>
<line x1="571.46" y1="192" x2="571.46" y2="202" stroke="#2a9a84" stroke-width="1"/>
<rect x="570.16" y="194" width="2.6" height="6" fill="#2a9a84"/>
<line x1="574.7" y1="186" x2="574.7" y2="199" stroke="#2a9a84" stroke-width="1"/>
<rect x="573.4" y="194" width="2.6" height="4" fill="#2a9a84"/>
<line x1="577.93" y1="180" x2="577.93" y2="202" stroke="#d6544f" stroke-width="1"/>
<rect x="576.63" y="194" width="2.6" height="6" fill="#d6544f"/>
<line x1="581.17" y1="180" x2="581.17" y2="207" stroke="#d6544f" stroke-width="1"/>
<rect x="579.87" y="194" width="2.6" height="12" fill="#d6544f"/>
<line x1="584.4" y1="177" x2="584.4" y2="207" stroke="#2a9a84" stroke-width="1"/>
<rect x="583.1" y="178" width="2.6" height="28" fill="#2a9a84"/>
<line x1="587.64" y1="145" x2="587.64" y2="179" stroke="#2a9a84" stroke-width="1"/>
<rect x="586.34" y="151" width="2.6" height="27" fill="#2a9a84"/>
<line x1="590.88" y1="104" x2="590.88" y2="162" stroke="#2a9a84" stroke-width="1"/>
<rect x="589.58" y="143" width="2.6" height="8" fill="#2a9a84"/>
<line x1="594.11" y1="127" x2="594.11" y2="145" stroke="#2a9a84" stroke-width="1"/>
<rect x="592.81" y="134" width="2.6" height="9" fill="#2a9a84"/>
<line x1="597.35" y1="121" x2="597.35" y2="153" stroke="#d6544f" stroke-width="1"/>
<rect x="596.05" y="134" width="2.6" height="10" fill="#d6544f"/>
<line x1="600.58" y1="118" x2="600.58" y2="145" stroke="#2a9a84" stroke-width="1"/>
<rect x="599.28" y="128" width="2.6" height="16" fill="#2a9a84"/>
<line x1="603.82" y1="125" x2="603.82" y2="145" stroke="#d6544f" stroke-width="1"/>
<rect x="602.52" y="126" width="2.6" height="17" fill="#d6544f"/>
<line x1="607.06" y1="129" x2="607.06" y2="177" stroke="#d6544f" stroke-width="1"/>
<rect x="605.76" y="143" width="2.6" height="32" fill="#d6544f"/>
<line x1="610.29" y1="157" x2="610.29" y2="178" stroke="#2a9a84" stroke-width="1"/>
<rect x="608.99" y="161" width="2.6" height="13" fill="#2a9a84"/>
<line x1="613.53" y1="157" x2="613.53" y2="174" stroke="#d6544f" stroke-width="1"/>
<rect x="612.23" y="161" width="2.6" height="12" fill="#d6544f"/>
<line x1="616.76" y1="136" x2="616.76" y2="185" stroke="#2a9a84" stroke-width="1"/>
<rect x="615.46" y="141" width="2.6" height="32" fill="#2a9a84"/>
<line x1="620" y1="138" x2="620" y2="155" stroke="#d6544f" stroke-width="1"/>
<rect x="618.7" y="141" width="2.6" height="7" fill="#d6544f"/>
<line x1="623.24" y1="127" x2="623.24" y2="156" stroke="#d6544f" stroke-width="1"/>
<rect x="621.94" y="148" width="2.6" height="2" fill="#d6544f"/>
<line x1="626.47" y1="142" x2="626.47" y2="182" stroke="#d6544f" stroke-width="1"/>
<rect x="625.17" y="150" width="2.6" height="30" fill="#d6544f"/>
<line x1="629.71" y1="164" x2="629.71" y2="182" stroke="#2a9a84" stroke-width="1"/>
<rect x="628.41" y="166" width="2.6" height="13" fill="#2a9a84"/>
<line x1="632.94" y1="163" x2="632.94" y2="174" stroke="#d6544f" stroke-width="1"/>
<rect x="631.64" y="167" width="2.6" height="6" fill="#d6544f"/>
<line x1="636.18" y1="162" x2="636.18" y2="175" stroke="#2a9a84" stroke-width="1"/>
<rect x="634.88" y="168" width="2.6" height="6" fill="#2a9a84"/>
<line x1="639.42" y1="168" x2="639.42" y2="184" stroke="#d6544f" stroke-width="1"/>
<rect x="638.12" y="170" width="2.6" height="13" fill="#d6544f"/>
<line x1="642.65" y1="176" x2="642.65" y2="190" stroke="#d6544f" stroke-width="1"/>
<rect x="641.35" y="179" width="2.6" height="8" fill="#d6544f"/>
<line x1="645.89" y1="179" x2="645.89" y2="191" stroke="#d6544f" stroke-width="1"/>
<rect x="644.59" y="183" width="2.6" height="6" fill="#d6544f"/>
<line x1="649.12" y1="179" x2="649.12" y2="202" stroke="#d6544f" stroke-width="1"/>
<rect x="647.82" y="182" width="2.6" height="12" fill="#d6544f"/>
<line x1="652.36" y1="178" x2="652.36" y2="195" stroke="#2a9a84" stroke-width="1"/>
<rect x="651.06" y="180" width="2.6" height="14" fill="#2a9a84"/>
<line x1="655.6" y1="178" x2="655.6" y2="186" stroke="#2a9a84" stroke-width="1"/>
<rect x="654.3" y="179" width="2.6" height="4" fill="#2a9a84"/>
<line x1="658.83" y1="178" x2="658.83" y2="193" stroke="#d6544f" stroke-width="1"/>
<rect x="657.53" y="179" width="2.6" height="12" fill="#d6544f"/>
<line x1="662.07" y1="175" x2="662.07" y2="191" stroke="#2a9a84" stroke-width="1"/>
<rect x="660.77" y="179" width="2.6" height="10" fill="#2a9a84"/>
<line x1="665.3" y1="180" x2="665.3" y2="188" stroke="#d6544f" stroke-width="1"/>
<rect x="664" y="181" width="2.6" height="6" fill="#d6544f"/>
<line x1="668.54" y1="176" x2="668.54" y2="187" stroke="#2a9a84" stroke-width="1"/>
<rect x="667.24" y="177" width="2.6" height="9" fill="#2a9a84"/>
<line x1="671.78" y1="166" x2="671.78" y2="178" stroke="#2a9a84" stroke-width="1"/>
<rect x="670.48" y="167" width="2.6" height="9" fill="#2a9a84"/>
<line x1="675.01" y1="155" x2="675.01" y2="171" stroke="#2a9a84" stroke-width="1"/>
<rect x="673.71" y="164" width="2.6" height="4" fill="#2a9a84"/>
<line x1="678.25" y1="155" x2="678.25" y2="170" stroke="#2a9a84" stroke-width="1"/>
<rect x="676.95" y="158" width="2.6" height="11" fill="#2a9a84"/>
<line x1="681.48" y1="154" x2="681.48" y2="166" stroke="#2a9a84" stroke-width="1"/>
<rect x="680.18" y="155" width="2.6" height="6" fill="#2a9a84"/>
<line x1="684.72" y1="145" x2="684.72" y2="159" stroke="#2a9a84" stroke-width="1"/>
<rect x="683.42" y="146" width="2.6" height="10" fill="#2a9a84"/>
<line x1="687.96" y1="131" x2="687.96" y2="148" stroke="#2a9a84" stroke-width="1"/>
<rect x="686.66" y="141" width="2.6" height="6" fill="#2a9a84"/>
<line x1="691.19" y1="140" x2="691.19" y2="161" stroke="#d6544f" stroke-width="1"/>
<rect x="689.89" y="141" width="2.6" height="18" fill="#d6544f"/>
<line x1="694.43" y1="157" x2="694.43" y2="173" stroke="#d6544f" stroke-width="1"/>
<rect x="693.13" y="159" width="2.6" height="8" fill="#d6544f"/>
<line x1="697.66" y1="160" x2="697.66" y2="171" stroke="#2a9a84" stroke-width="1"/>
<rect x="696.36" y="161" width="2.6" height="7" fill="#2a9a84"/>
<line x1="700.9" y1="146" x2="700.9" y2="163" stroke="#2a9a84" stroke-width="1"/>
<rect x="699.6" y="147" width="2.6" height="15" fill="#2a9a84"/>
<line x1="704.14" y1="138" x2="704.14" y2="149" stroke="#2a9a84" stroke-width="1"/>
<rect x="702.84" y="143" width="2.6" height="5" fill="#2a9a84"/>
<line x1="707.37" y1="138" x2="707.37" y2="159" stroke="#d6544f" stroke-width="1"/>
<rect x="706.07" y="143" width="2.6" height="15" fill="#d6544f"/>
<line x1="710.61" y1="150" x2="710.61" y2="158" stroke="#d6544f" stroke-width="1"/>
<rect x="709.31" y="151" width="2.6" height="6" fill="#d6544f"/>
<line x1="713.84" y1="152" x2="713.84" y2="163" stroke="#d6544f" stroke-width="1"/>
<rect x="712.54" y="155" width="2.6" height="7" fill="#d6544f"/>
<line x1="717.08" y1="159" x2="717.08" y2="199" stroke="#d6544f" stroke-width="1"/>
<rect x="715.78" y="160" width="2.6" height="24" fill="#d6544f"/>
<line x1="720.32" y1="182" x2="720.32" y2="193" stroke="#d6544f" stroke-width="1"/>
<rect x="719.02" y="184" width="2.6" height="8" fill="#d6544f"/>
<line x1="723.55" y1="182" x2="723.55" y2="198" stroke="#2a9a84" stroke-width="1"/>
<rect x="722.25" y="184" width="2.6" height="7" fill="#2a9a84"/>
<line x1="726.79" y1="188" x2="726.79" y2="213" stroke="#d6544f" stroke-width="1"/>
<rect x="725.49" y="189" width="2.6" height="20" fill="#d6544f"/>
<line x1="730.02" y1="196" x2="730.02" y2="211" stroke="#2a9a84" stroke-width="1"/>
<rect x="728.72" y="198" width="2.6" height="11" fill="#2a9a84"/>
<line x1="733.26" y1="196" x2="733.26" y2="203" stroke="#d6544f" stroke-width="1"/>
<rect x="731.96" y="198" width="2.6" height="4" fill="#d6544f"/>
<line x1="736.5" y1="188" x2="736.5" y2="208" stroke="#2a9a84" stroke-width="1"/>
<rect x="735.2" y="191" width="2.6" height="11" fill="#2a9a84"/>
<line x1="739.73" y1="188" x2="739.73" y2="196" stroke="#2a9a84" stroke-width="1"/>
<rect x="738.43" y="189" width="2.6" height="3" fill="#2a9a84"/>
<line x1="742.97" y1="188" x2="742.97" y2="202" stroke="#2a9a84" stroke-width="1"/>
<rect x="741.67" y="189" width="2.6" height="3" fill="#2a9a84"/>
<line x1="746.2" y1="172" x2="746.2" y2="195" stroke="#2a9a84" stroke-width="1"/>
<rect x="744.9" y="173" width="2.6" height="18" fill="#2a9a84"/>
<line x1="749.44" y1="163" x2="749.44" y2="174" stroke="#2a9a84" stroke-width="1"/>
<rect x="748.14" y="165" width="2.6" height="8" fill="#2a9a84"/>
<line x1="752.68" y1="156" x2="752.68" y2="173" stroke="#d6544f" stroke-width="1"/>
<rect x="751.38" y="167" width="2.6" height="5" fill="#d6544f"/>
<line x1="755.91" y1="161" x2="755.91" y2="177" stroke="#d6544f" stroke-width="1"/>
<rect x="754.61" y="168" width="2.6" height="8" fill="#d6544f"/>
<line x1="759.15" y1="161" x2="759.15" y2="180" stroke="#d6544f" stroke-width="1"/>
<rect x="757.85" y="167" width="2.6" height="10" fill="#d6544f"/>
<line x1="762.38" y1="161" x2="762.38" y2="180" stroke="#2a9a84" stroke-width="1"/>
<rect x="761.08" y="165" width="2.6" height="13" fill="#2a9a84"/>
<line x1="765.62" y1="162" x2="765.62" y2="187" stroke="#d6544f" stroke-width="1"/>
<rect x="764.32" y="164" width="2.6" height="22" fill="#d6544f"/>
<line x1="768.86" y1="176" x2="768.86" y2="190" stroke="#2a9a84" stroke-width="1"/>
<rect x="767.56" y="178" width="2.6" height="9" fill="#2a9a84"/>
<line x1="772.09" y1="178" x2="772.09" y2="197" stroke="#d6544f" stroke-width="1"/>
<rect x="770.79" y="179" width="2.6" height="14" fill="#d6544f"/>
<line x1="775.33" y1="185" x2="775.33" y2="408" stroke="#d6544f" stroke-width="1"/>
<rect x="774.03" y="190" width="2.6" height="72" fill="#d6544f"/>
<line x1="778.56" y1="242" x2="778.56" y2="271" stroke="#d6544f" stroke-width="1"/>
<rect x="777.26" y="262" width="2.6" height="1" fill="#d6544f"/>
<line x1="781.8" y1="230" x2="781.8" y2="268" stroke="#2a9a84" stroke-width="1"/>
<rect x="780.5" y="234" width="2.6" height="33" fill="#2a9a84"/>
<line x1="785.04" y1="220" x2="785.04" y2="238" stroke="#2a9a84" stroke-width="1"/>
<rect x="783.74" y="224" width="2.6" height="10" fill="#2a9a84"/>
<line x1="788.27" y1="221" x2="788.27" y2="240" stroke="#d6544f" stroke-width="1"/>
<rect x="786.97" y="224" width="2.6" height="12" fill="#d6544f"/>
<line x1="791.51" y1="228" x2="791.51" y2="250" stroke="#d6544f" stroke-width="1"/>
<rect x="790.21" y="236" width="2.6" height="10" fill="#d6544f"/>
<line x1="794.74" y1="240" x2="794.74" y2="258" stroke="#d6544f" stroke-width="1"/>
<rect x="793.44" y="246" width="2.6" height="11" fill="#d6544f"/>
<line x1="797.98" y1="253" x2="797.98" y2="278" stroke="#d6544f" stroke-width="1"/>
<rect x="796.68" y="257" width="2.6" height="8" fill="#d6544f"/>
<line x1="801.22" y1="259" x2="801.22" y2="268" stroke="#2a9a84" stroke-width="1"/>
<rect x="799.92" y="262" width="2.6" height="4" fill="#2a9a84"/>
<line x1="804.45" y1="248" x2="804.45" y2="264" stroke="#2a9a84" stroke-width="1"/>
<rect x="803.15" y="253" width="2.6" height="9" fill="#2a9a84"/>
<line x1="807.69" y1="245" x2="807.69" y2="256" stroke="#2a9a84" stroke-width="1"/>
<rect x="806.39" y="250" width="2.6" height="3" fill="#2a9a84"/>
<line x1="810.92" y1="241" x2="810.92" y2="260" stroke="#d6544f" stroke-width="1"/>
<rect x="809.62" y="249" width="2.6" height="9" fill="#d6544f"/>
<line x1="814.16" y1="250" x2="814.16" y2="273" stroke="#d6544f" stroke-width="1"/>
<rect x="812.86" y="256" width="2.6" height="10" fill="#d6544f"/>
<line x1="817.4" y1="254" x2="817.4" y2="267" stroke="#2a9a84" stroke-width="1"/>
<rect x="816.1" y="258" width="2.6" height="8" fill="#2a9a84"/>
<line x1="820.63" y1="249" x2="820.63" y2="260" stroke="#2a9a84" stroke-width="1"/>
<rect x="819.33" y="251" width="2.6" height="7" fill="#2a9a84"/>
<line x1="823.87" y1="251" x2="823.87" y2="257" stroke="#d6544f" stroke-width="1"/>
<rect x="822.57" y="253" width="2.6" height="2" fill="#d6544f"/>
<line x1="827.1" y1="241" x2="827.1" y2="257" stroke="#2a9a84" stroke-width="1"/>
<rect x="825.8" y="242" width="2.6" height="13" fill="#2a9a84"/>
<line x1="830.34" y1="239" x2="830.34" y2="249" stroke="#d6544f" stroke-width="1"/>
<rect x="829.04" y="240" width="2.6" height="8" fill="#d6544f"/>
<line x1="833.58" y1="246" x2="833.58" y2="259" stroke="#d6544f" stroke-width="1"/>
<rect x="832.28" y="247" width="2.6" height="10" fill="#d6544f"/>
<line x1="836.81" y1="255" x2="836.81" y2="266" stroke="#d6544f" stroke-width="1"/>
<rect x="835.51" y="256" width="2.6" height="8" fill="#d6544f"/>
<line x1="840.05" y1="257" x2="840.05" y2="281" stroke="#d6544f" stroke-width="1"/>
<rect x="838.75" y="259" width="2.6" height="19" fill="#d6544f"/>
<line x1="843.28" y1="269" x2="843.28" y2="277" stroke="#2a9a84" stroke-width="1"/>
<rect x="841.98" y="271" width="2.6" height="5" fill="#2a9a84"/>
<line x1="846.52" y1="268" x2="846.52" y2="274" stroke="#2a9a84" stroke-width="1"/>
<rect x="845.22" y="270" width="2.6" height="3" fill="#2a9a84"/>
<line x1="849.76" y1="268" x2="849.76" y2="278" stroke="#d6544f" stroke-width="1"/>
<rect x="848.46" y="269" width="2.6" height="6" fill="#d6544f"/>
<line x1="852.99" y1="271" x2="852.99" y2="296" stroke="#d6544f" stroke-width="1"/>
<rect x="851.69" y="272" width="2.6" height="23" fill="#d6544f"/>
<line x1="856.23" y1="292" x2="856.23" y2="320" stroke="#d6544f" stroke-width="1"/>
<rect x="854.93" y="294" width="2.6" height="13" fill="#d6544f"/>
<line x1="859.46" y1="296" x2="859.46" y2="318" stroke="#2a9a84" stroke-width="1"/>
<rect x="858.16" y="297" width="2.6" height="11" fill="#2a9a84"/>
<line x1="862.7" y1="297" x2="862.7" y2="309" stroke="#d6544f" stroke-width="1"/>
<rect x="861.4" y="298" width="2.6" height="8" fill="#d6544f"/>
<line x1="865.94" y1="280" x2="865.94" y2="308" stroke="#2a9a84" stroke-width="1"/>
<rect x="864.64" y="285" width="2.6" height="19" fill="#2a9a84"/>
<line x1="869.17" y1="278" x2="869.17" y2="289" stroke="#d6544f" stroke-width="1"/>
<rect x="867.87" y="284" width="2.6" height="4" fill="#d6544f"/>
<line x1="872.41" y1="282" x2="872.41" y2="296" stroke="#2a9a84" stroke-width="1"/>
<rect x="871.11" y="284" width="2.6" height="5" fill="#2a9a84"/>
<line x1="875.64" y1="276" x2="875.64" y2="286" stroke="#2a9a84" stroke-width="1"/>
<rect x="874.34" y="278" width="2.6" height="7" fill="#2a9a84"/>
<line x1="878.88" y1="276" x2="878.88" y2="294" stroke="#d6544f" stroke-width="1"/>
<rect x="877.58" y="278" width="2.6" height="15" fill="#d6544f"/>
<line x1="882.12" y1="283" x2="882.12" y2="300" stroke="#d6544f" stroke-width="1"/>
<rect x="880.82" y="287" width="2.6" height="12" fill="#d6544f"/>
<line x1="885.35" y1="292" x2="885.35" y2="310" stroke="#d6544f" stroke-width="1"/>
<rect x="884.05" y="298" width="2.6" height="10" fill="#d6544f"/>
<line x1="888.59" y1="303" x2="888.59" y2="321" stroke="#d6544f" stroke-width="1"/>
<rect x="887.29" y="304" width="2.6" height="15" fill="#d6544f"/>
<line x1="891.82" y1="309" x2="891.82" y2="319" stroke="#2a9a84" stroke-width="1"/>
<rect x="890.52" y="315" width="2.6" height="3" fill="#2a9a84"/>
<line x1="895.06" y1="312" x2="895.06" y2="326" stroke="#d6544f" stroke-width="1"/>
<rect x="893.76" y="315" width="2.6" height="7" fill="#d6544f"/>
<line x1="898.3" y1="313.2" x2="898.3" y2="327.1" stroke="#d6544f" stroke-width="1"/>
<rect x="897" y="322.3" width="2.6" height="1.5" fill="#d6544f"/>
<polyline points="8.4,146.91 11.63,147.65 14.87,148.35 18.1,148.91 21.34,149.47 24.58,151.29 27.81,153.25 31.05,155.84 34.28,158.43 37.52,161.25 40.76,164.14 43.99,167.02 47.23,169.88 50.46,171.87 53.7,173.02 56.94,173.13 60.17,173.3 63.41,173.57 66.64,174.36 69.88,175.81 73.12,178.47 76.35,180.69 79.59,182.74 82.82,184.96 86.06,187.2 89.3,190.21 92.53,192.52 95.77,194.46 99,196.4 102.24,198.34 105.48,200.23 108.71,201.83 111.95,203.43 115.18,205.49 118.42,207.65 121.66,209.47 124.89,210.86 128.13,211.38 131.36,211.9 134.6,212.07 137.84,212.17 141.07,212.26 144.31,212.4 147.54,212.57 150.78,212.94 154.02,213.93 157.25,214.92 160.49,216.2 163.72,217.49 166.96,218.5 170.2,220.2 173.43,221.68 176.67,223.74 179.9,224.74 183.14,226.06 186.38,227.34 189.61,228.1 192.85,229.16 196.08,230.26 199.32,230.88 202.56,231.36 205.79,231.56 209.03,231.58 212.26,231.56 215.5,231.9 218.74,236 221.97,237.42 225.21,239.36 228.44,241.44 231.68,243 234.92,243.98 238.15,244.9 241.39,245 244.62,244.74 247.86,245.08 251.1,245.36 254.33,245.4 257.57,245.62 260.8,246.14 264.04,246.5 267.28,246.74 270.51,246.8 273.75,246.6 276.98,246.14 280.22,245.02 283.46,244.2 286.69,243.38 289.93,242.78 293.16,242.42 296.4,242.12 299.64,242 302.87,241.76 306.11,241.08 309.34,240.48 312.58,239.76 315.82,239.16 319.05,237.76 322.29,236.98 325.52,236.22 328.76,235.38 332,233.84 335.23,232.52 338.47,231.06 341.7,230.32 344.94,229.66 348.18,229.46 351.41,229.48 354.65,229.08 357.88,228.7 361.12,228.22 364.36,228.06 367.59,227.76 370.83,227.5 374.06,227.18 377.3,226.48 380.54,225.74 383.77,225.62 387.01,225.96 390.24,226.66 393.48,227.4 396.72,227.98 399.95,228.52 403.19,229.36 406.42,230.18 409.66,230.84 412.9,231.9 416.13,233.08 419.37,234.46 422.6,235.28 425.84,235.84 429.08,236.76 432.31,237.86 435.55,239.56 438.78,241.28 442.02,243.42 445.26,245.34 448.49,247.58 451.73,249.4 454.96,250.98 458.2,252.56 461.44,253.94 464.67,255.14 467.91,256.58 471.14,257.74 474.38,258.78 477.62,259.5 480.85,260.32 484.09,260.78 487.32,260.94 490.56,261.12 493.8,261.24 497.03,261.1 500.27,260.42 503.5,259.66 506.74,258.54 509.98,257 513.21,255.12 516.45,253.38 519.68,252.28 522.92,251.12 526.16,249.56 529.39,248.18 532.63,246.8 535.86,245.86 539.1,245.22 542.34,244.82 545.57,244.5 548.81,244.08 552.04,243.56 555.28,242.68 558.52,241.68 561.75,240.98 564.99,239.88 568.22,238.3 571.46,236.66 574.7,234.82 577.93,232.92 581.17,231.06 584.4,228.96 587.64,226.38 590.88,223.44 594.11,220.22 597.35,217.26 600.58,214.04 603.82,211.22 607.06,208.96 610.29,206.18 613.53,204.06 616.76,201.36 620,198.56 623.24,195.92 626.47,193.9 629.71,191.54 632.94,189.42 636.18,187.46 639.42,186.24 642.65,185.36 645.89,184.38 649.12,183.86 652.36,183.04 655.6,182.3 658.83,181.96 662.07,181.82 665.3,181.8 668.54,181.68 671.78,181.6 675.01,181.72 678.25,181.84 681.48,181.18 684.72,180.28 687.96,179.34 691.19,178.84 694.43,178.56 697.66,177.8 700.9,176.7 704.14,175.4 707.37,174.16 710.61,172.7 713.84,171.22 717.08,170.44 720.32,170.04 723.55,169.16 726.79,168.98 730.02,168.96 733.26,169.12 736.5,169.06 739.73,168.84 742.97,168.5 746.2,168.4 749.44,168.68 752.68,169.26 755.91,170.1 759.15,170.76 762.38,171.5 765.62,172.36 768.86,172.42 772.09,173.06 775.33,174.84 778.56,177.28 781.8,179 785.04,180.48 788.27,181.6 791.51,183.2 794.74,184.88 797.98,186.82 801.22,188.4 804.45,189.72 807.69,190.94 810.92,192.22 814.16,193.94 817.4,195.52 820.63,196.72 823.87,198.24 827.1,199.34 830.34,200.76 833.58,202.56 836.81,204.56 840.05,206.96 843.28,209.28 846.52,211.76 849.76,214.44 852.99,217.16 856.23,219.96 859.46,222.68 862.7,225.86 865.94,228.7 869.17,231.3 872.41,233.84 875.64,236.16 878.88,238.34 882.12,240.48 885.35,242.96 888.59,245.16 891.82,247.5 895.06,249.9 898.3,252.56" fill="none" stroke="#d4404f" stroke-width="2.55" stroke-linejoin="round"/>
<polyline points="8.4,190.34 11.63,190.84 14.87,191.42 18.1,192.23 21.34,192.95 24.58,193.54 27.81,194.57 31.05,196.16 34.28,198.9 37.52,202.65 40.76,206.69 43.99,211.49 47.23,216.23 50.46,219.46 53.7,217.7 56.94,206.39 60.17,199.11 63.41,193.05 66.64,188.58 69.88,186.07 73.12,186.88 76.35,189.2 79.59,193.01 82.82,196.41 86.06,199.55 89.3,201.29 92.53,204.07 95.77,205.82 99,206.88 102.24,209.46 105.48,211.61 108.71,214.03 111.95,214.31 115.18,215.42 118.42,217.1 121.66,218.61 124.89,219.6 128.13,219.45 131.36,219.02 134.6,219.5 137.84,219.45 141.07,220.74 144.31,223.15 147.54,225.8 150.78,228.1 154.02,229.05 157.25,231.99 160.49,234.09 163.72,235.61 166.96,237.36 170.2,242.09 173.43,245.79 176.67,250.29 179.9,251.5 183.14,253.45 186.38,253.88 189.61,253.61 192.85,254.12 196.08,254.87 199.32,256.6 202.56,258.26 205.79,259.18 209.03,259.55 212.26,259.78 215.5,260.66 218.74,261.07 221.97,259.26 225.21,256.85 228.44,254.01 231.68,251.72 234.92,249.94 238.15,248.61 241.39,246.93 244.62,245.99 247.86,245.7 251.1,244.49 254.33,243.68 257.57,242.38 260.8,242.34 264.04,243.26 267.28,243.33 270.51,243.02 273.75,239.59 276.98,236.1 280.22,230.47 283.46,226.81 286.69,223.11 289.93,219.77 293.16,217.6 296.4,216.78 299.64,216.42 302.87,216.86 306.11,216.39 309.34,216.83 312.58,216.56 315.82,215.75 319.05,213.3 322.29,213.46 325.52,213.32 328.76,213.19 332,212.89 335.23,213.09 338.47,213.75 341.7,214.92 344.94,217.21 348.18,220.14 351.41,223.18 354.65,224.68 357.88,226.43 361.12,228.58 364.36,232.14 367.59,234.13 370.83,235.64 374.06,236.63 377.3,236.38 380.54,235.58 383.77,235.62 387.01,237.08 390.24,239.46 393.48,242.08 396.72,243.98 399.95,245.79 403.19,248.38 406.42,251.2 409.66,253.56 412.9,256.65 416.13,260.3 419.37,263.99 422.6,265.8 425.84,267.15 429.08,269.33 432.31,271.77 435.55,273.7 438.78,275.16 442.02,276 445.26,277.14 448.49,279.32 451.73,279.29 454.96,278.98 458.2,279.83 461.44,280.04 464.67,280.13 467.91,280.5 471.14,280.36 474.38,278.99 477.62,275.66 480.85,271.4 484.09,268.22 487.32,263.63 490.56,259.57 493.8,255.42 497.03,250.9 500.27,244.72 503.5,239.32 506.74,233.96 509.98,227.96 513.21,221.3 516.45,214.7 519.68,212.16 522.92,210.14 526.16,208.03 529.39,205.74 532.63,203.39 535.86,202.97 539.1,202.88 542.34,203.36 545.57,204.95 548.81,207.33 552.04,210.06 555.28,211.3 558.52,211.36 561.75,212.95 564.99,213.43 568.22,212.06 571.46,210.34 574.7,208.78 577.93,207.94 581.17,207.76 584.4,204.92 587.64,199.79 590.88,194.38 594.11,188.63 597.35,184.38 600.58,179.01 603.82,175.58 607.06,175.53 610.29,174.14 613.53,174.03 616.76,170.89 620,168.71 623.24,166.93 626.47,168.17 629.71,167.96 632.94,168.44 636.18,168.4 639.42,169.79 642.65,171.43 645.89,173.1 649.12,175.09 652.36,175.56 655.6,175.89 658.83,177.33 662.07,177.49 665.3,178.39 668.54,178.26 671.78,177.19 675.01,175.93 678.25,174.22 681.48,172.39 684.72,169.88 687.96,167.13 691.19,166.36 694.43,166.42 697.66,165.9 700.9,164.1 704.14,162.09 707.37,161.7 710.61,161.25 713.84,161.32 717.08,163.48 720.32,166.2 723.55,167.9 726.79,171.81 730.02,174.3 733.26,176.94 736.5,178.28 739.73,179.3 742.97,180.23 746.2,179.54 749.44,178.15 752.68,177.57 755.91,177.42 759.15,177.38 762.38,176.2 765.62,177.13 768.86,177.22 772.09,178.72 775.33,186.65 778.56,193.92 781.8,197.74 785.04,200.24 788.27,203.65 791.51,207.68 794.74,212.38 797.98,217.39 801.22,221.64 804.45,224.62 807.69,227.04 810.92,229.99 814.16,233.42 817.4,235.76 820.63,237.21 823.87,238.91 827.1,239.2 830.34,240.04 833.58,241.65 836.81,243.78 840.05,247.04 843.28,249.32 846.52,251.29 849.76,253.55 852.99,257.5 856.23,262.21 859.46,265.53 862.7,269.38 865.94,270.87 869.17,272.5 872.41,273.59 875.64,274.01 878.88,275.82 882.12,278.03 885.35,280.88 888.59,284.51 891.82,287.42 895.06,290.71 898.3,293.86" fill="none" stroke="#3d5bd6" stroke-width="2.55" stroke-linejoin="round"/>
<line x1="7.4" y1="316" x2="982" y2="316" stroke="#1414a0" stroke-width="2.3" stroke-dasharray="11.2 14.2"/>
<line x1="8" y1="324.3" x2="982" y2="324.3" stroke="#c8a4a8" stroke-width="1" stroke-dasharray="1 1.6"/>
<circle cx="898.4" cy="420" r="7.4" fill="none" stroke="#7a5a9c" stroke-width="1.4" stroke-dasharray="39.5 7" stroke-dashoffset="2.3"/>
<circle cx="903.5" cy="414.8" r="2.1" fill="#d33b4e"/>
<path d="M901,415.6 L896.2,421 H898.7 L896.3,424.8 L901.2,419.1 H898.7 Z" fill="#7a5a9c" stroke="#7a5a9c" stroke-width="0.5" stroke-linejoin="round"/>
<text x="14.4" y="445.8" font-size="9.8" fill="#4a4a4f" text-anchor="start" stroke="#4a4a4f" stroke-width="0.25" textLength="57.4" lengthAdjust="spacingAndGlyphs" >RSI (14, close)</text>
<text x="79" y="445.8" font-size="9.8" fill="#8c7bcb" text-anchor="start" stroke="#8c7bcb" stroke-width="0.25" textLength="21.5" lengthAdjust="spacingAndGlyphs" >30.66</text>
<text x="106.4" y="445.8" font-size="9.8" fill="#e8da62" text-anchor="start" stroke="#e8da62" stroke-width="0.25" textLength="22.9" lengthAdjust="spacingAndGlyphs" >35.54</text>
<text x="53.7" y="581.4" font-size="9.4" fill="#333" text-anchor="middle" stroke="#333" stroke-width="0.12" font-weight="bold" textLength="15.3" lengthAdjust="spacingAndGlyphs" >Mar</text>
<text x="154.02" y="581.4" font-size="9.4" fill="#333" text-anchor="middle" stroke="#333" stroke-width="0.12" font-weight="bold" textLength="14.5" lengthAdjust="spacingAndGlyphs" >Apr</text>
<text x="251.1" y="581.4" font-size="9.4" fill="#333" text-anchor="middle" stroke="#333" stroke-width="0.12" font-weight="bold" textLength="16.3" lengthAdjust="spacingAndGlyphs" >May</text>
<text x="351.41" y="581.4" font-size="9.4" fill="#333" text-anchor="middle" stroke="#333" stroke-width="0.12" font-weight="bold" textLength="15.3" lengthAdjust="spacingAndGlyphs" >Jun</text>
<text x="448.49" y="581.4" font-size="9.4" fill="#333" text-anchor="middle" stroke="#333" stroke-width="0.12" font-weight="bold" textLength="12.3" lengthAdjust="spacingAndGlyphs" >Jul</text>
<text x="548.81" y="581.4" font-size="9.4" fill="#333" text-anchor="middle" stroke="#333" stroke-width="0.12" font-weight="bold" textLength="15.5" lengthAdjust="spacingAndGlyphs" >Aug</text>
<text x="649.12" y="581.4" font-size="9.4" fill="#333" text-anchor="middle" stroke="#333" stroke-width="0.12" font-weight="bold" textLength="14.9" lengthAdjust="spacingAndGlyphs" >Sep</text>
<text x="746.2" y="581.4" font-size="9.4" fill="#333" text-anchor="middle" stroke="#333" stroke-width="0.12" font-weight="bold" textLength="14.6" lengthAdjust="spacingAndGlyphs" >Oct</text>
<text x="846.52" y="581.4" font-size="9.4" fill="#333" text-anchor="middle" stroke="#333" stroke-width="0.12" font-weight="bold" textLength="16.3" lengthAdjust="spacingAndGlyphs" >Nov</text>
<text x="943.6" y="581.4" font-size="9.4" fill="#333" text-anchor="middle" stroke="#333" stroke-width="0.12" font-weight="bold" textLength="15.8" lengthAdjust="spacingAndGlyphs" >Dec</text>
<text x="989.5" y="75.8" font-size="10.3" fill="#444" text-anchor="start" stroke="#444" stroke-width="0.25" textLength="26.3" lengthAdjust="spacingAndGlyphs" >1.1000</text>
<text x="989.5" y="116.6" font-size="10.3" fill="#444" text-anchor="start" stroke="#444" stroke-width="0.25" textLength="26.3" lengthAdjust="spacingAndGlyphs" >1.0000</text>
<text x="989.5" y="157.4" font-size="10.3" fill="#444" text-anchor="start" stroke="#444" stroke-width="0.25" textLength="26.3" lengthAdjust="spacingAndGlyphs" >0.9000</text>
<text x="989.5" y="198.2" font-size="10.3" fill="#444" text-anchor="start" stroke="#444" stroke-width="0.25" textLength="26.3" lengthAdjust="spacingAndGlyphs" >0.8000</text>
<text x="989.5" y="239" font-size="10.3" fill="#444" text-anchor="start" stroke="#444" stroke-width="0.25" textLength="26.3" lengthAdjust="spacingAndGlyphs" >0.7000</text>
<text x="989.5" y="279.8" font-size="10.3" fill="#444" text-anchor="start" stroke="#444" stroke-width="0.25" textLength="26.3" lengthAdjust="spacingAndGlyphs" >0.6000</text>
<text x="989.5" y="361.4" font-size="10.3" fill="#444" text-anchor="start" stroke="#444" stroke-width="0.25" textLength="26.3" lengthAdjust="spacingAndGlyphs" >0.4000</text>
<text x="989.5" y="402.2" font-size="10.3" fill="#444" text-anchor="start" stroke="#444" stroke-width="0.25" textLength="26.3" lengthAdjust="spacingAndGlyphs" >0.3000</text>
<text x="988.5" y="450.1" font-size="10.3" fill="#444" text-anchor="start" stroke="#444" stroke-width="0.25" textLength="23" lengthAdjust="spacingAndGlyphs" >80.00</text>
<text x="988.5" y="491.9" font-size="10.3" fill="#444" text-anchor="start" stroke="#444" stroke-width="0.25" textLength="23" lengthAdjust="spacingAndGlyphs" >60.00</text>
<text x="988.5" y="533.6" font-size="9.9" fill="#444" text-anchor="start" stroke="#444" stroke-width="0.25" textLength="23" lengthAdjust="spacingAndGlyphs" >40.00</text>
<rect x="985.5" y="24.5" width="45" height="18" rx="3" fill="#fff" stroke="#ececee"/>
<text x="992" y="38" font-size="10.2" fill="#333" text-anchor="start" stroke="#333" stroke-width="0.25" textLength="20" lengthAdjust="spacingAndGlyphs" >USDT</text>
<rect x="943.5" y="246.5" width="39.5" height="11.9" rx="2" fill="#df3d50"/>
<rect x="981.5" y="246.5" width="38.3" height="11.9" rx="2" fill="#df3d50"/>
<line x1="982.2" y1="246.5" x2="982.2" y2="258.4" stroke="#fff" stroke-opacity="0.45" stroke-width="1"/>
<text x="962.1" y="256.1" font-size="9.3" fill="#fff" text-anchor="middle" stroke="#fff" stroke-width="0.25" textLength="31" lengthAdjust="spacingAndGlyphs" >SMA:MA</text>
<text x="989.5" y="256.1" font-size="9.3" fill="#fff" text-anchor="start" stroke="#fff" stroke-width="0.25" textLength="26.3" lengthAdjust="spacingAndGlyphs" >0.6572</text>
<rect x="958.2" y="287.2" width="24.8" height="11.8" rx="2" fill="#3168e2"/>
<rect x="981.5" y="287.2" width="38.3" height="11.8" rx="2" fill="#3168e2"/>
<line x1="982.2" y1="287.2" x2="982.2" y2="299" stroke="#fff" stroke-opacity="0.45" stroke-width="1"/>
<text x="969.5" y="296.8" font-size="9.3" fill="#fff" text-anchor="middle" stroke="#fff" stroke-width="0.25" textLength="17" lengthAdjust="spacingAndGlyphs" >EMA</text>
<text x="989.5" y="296.8" font-size="9.3" fill="#fff" text-anchor="start" stroke="#fff" stroke-width="0.25" textLength="26.3" lengthAdjust="spacingAndGlyphs" >0.5564</text>
<rect x="982.7" y="305.3" width="36.5" height="12.7" rx="2" fill="#0000dc"/>
<text x="988.7" y="315.7" font-size="9.3" fill="#fff" text-anchor="start" stroke="#fff" stroke-width="0.25" textLength="26.6" lengthAdjust="spacingAndGlyphs" >0.5000</text>
<rect x="938" y="318.3" width="45" height="12" rx="2" fill="#eb4b4f"/>
<rect x="981.5" y="318.3" width="44.5" height="34.2" rx="2" fill="#eb4b4f"/>
<line x1="982.2" y1="318.3" x2="982.2" y2="330.3" stroke="#fff" stroke-opacity="0.45" stroke-width="1"/>
<text x="959.4" y="328.2" font-size="9.3" fill="#fff" text-anchor="middle" stroke="#fff" stroke-width="0.25" textLength="36" lengthAdjust="spacingAndGlyphs" >ADAUSDT</text>
<text x="988.75" y="328.3" font-size="9.3" fill="#fff" text-anchor="start" stroke="#fff" stroke-width="0.25" textLength="27" lengthAdjust="spacingAndGlyphs" >0.4809</text>
<text x="988.75" y="338.75" font-size="9.3" fill="#fff" text-anchor="start" stroke="#fff" stroke-width="0.25" textLength="33" lengthAdjust="spacingAndGlyphs" >−39.86%</text>
<text x="988.75" y="349.2" font-size="9.3" fill="#fff" text-anchor="start" stroke="#fff" stroke-width="0.25" textLength="36" lengthAdjust="spacingAndGlyphs" >08:35:23</text>
<rect x="921.6" y="530.2" width="61.4" height="12.3" rx="2" fill="#f7d43a"/>
<rect x="981.5" y="530.2" width="33.5" height="12.3" rx="2" fill="#f7d43a"/>
<line x1="982.2" y1="530.2" x2="982.2" y2="542.5" stroke="#fff" stroke-opacity="0.45" stroke-width="1"/>
<text x="951.5" y="540.3" font-size="9.3" fill="#222" text-anchor="middle" stroke="#222" stroke-width="0.25" textLength="53" lengthAdjust="spacingAndGlyphs" >RSI-based MA</text>
<text x="988.6" y="540.3" font-size="9.3" fill="#222" text-anchor="start" stroke="#222" stroke-width="0.25" textLength="23" lengthAdjust="spacingAndGlyphs" >35.54</text>
<rect x="962.6" y="543.7" width="20.4" height="11.7" rx="2" fill="#7e57c2"/>
<rect x="981.5" y="543.7" width="33.5" height="11.7" rx="2" fill="#7e57c2"/>
<line x1="982.2" y1="543.7" x2="982.2" y2="555.4" stroke="#fff" stroke-opacity="0.45" stroke-width="1"/>
<text x="972" y="553.4" font-size="9.3" fill="#fff" text-anchor="middle" stroke="#fff" stroke-width="0.25" textLength="12.5" lengthAdjust="spacingAndGlyphs" >RSI</text>
<text x="988.6" y="553.4" font-size="9.3" fill="#fff" text-anchor="start" stroke="#fff" stroke-width="0.25" textLength="23" lengthAdjust="spacingAndGlyphs" >30.66</text>
</svg>
</body></html>
